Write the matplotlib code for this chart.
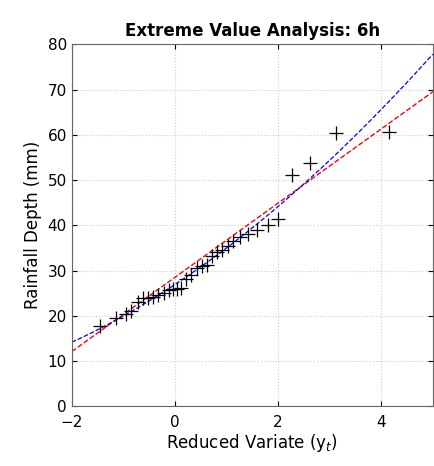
import numpy as np
import matplotlib.pyplot as plt

# observed annual maxima vs reduced variate
y_obs = [-1.45, -1.15, -0.95, -0.85, -0.72, -0.62, -0.52, -0.42, -0.32, -0.22, -0.12, -0.04,
         0.04, 0.12, 0.22, 0.32, 0.42, 0.52, 0.62, 0.72, 0.82, 0.92, 1.02, 1.12, 1.27,
         1.42, 1.6, 1.8, 2.0, 2.27, 2.62, 3.12, 4.15]
depth_obs = [17.8, 19.5, 20.3, 21.0, 23.0, 24.0, 24.0, 24.2, 24.5, 25.0, 25.6, 26.0,
             26.0, 26.2, 28.2, 29.0, 30.5, 31.0, 31.2, 33.2, 34.0, 34.5, 35.5, 36.5, 37.5,
             38.0, 39.0, 40.0, 41.5, 51.2, 53.8, 60.5, 60.7]

# fitted curves
gumbel_x = [-2, 5]
gumbel_fit = [12.1, 69.5]
gev_x = [-2, -1, 0, 1, 2, 2.5, 3, 4, 5]
gev_fit = [14.0, 20.3, 27.0, 34.5, 44.0, 49.5, 54.5, 65.5, 77.8]

fig, ax = plt.subplots(figsize=(4.35, 4.66), dpi=100)
xs = np.linspace(-2, 5, 200)
ax.plot(xs, np.interp(xs, gumbel_x, gumbel_fit), color='red', ls='--', lw=1)
gev_poly = np.polyfit(gev_x, gev_fit, 3)
ax.plot(xs, np.polyval(gev_poly, xs), color='blue', ls='--', lw=0.9)
ax.plot(y_obs, depth_obs, '+', color='black', ms=10, mew=0.9)

ax.set_xlim(-2, 5)
ax.set_ylim(0, 80)
ax.set_xticks([-2, 0, 2, 4])
ax.set_yticks(range(0, 81, 10))
ax.grid(True, ls=':', color='#cccccc', lw=0.8)
ax.tick_params(direction='in', labelsize=11, top=True, right=True)
ax.tick_params(axis='x', pad=6)
for s in ax.spines.values():
    s.set_color('#666666')
ax.set_title('Extreme Value Analysis: 6h', fontsize=12, fontweight='bold')
ax.set_xlabel('Reduced Variate (y$_t$)', fontsize=12, labelpad=2)
ax.set_ylabel('Rainfall Depth (mm)', fontsize=12)
fig.subplots_adjust(left=0.165, right=0.995, bottom=0.128, top=0.905)
fig.savefig('out.png')
